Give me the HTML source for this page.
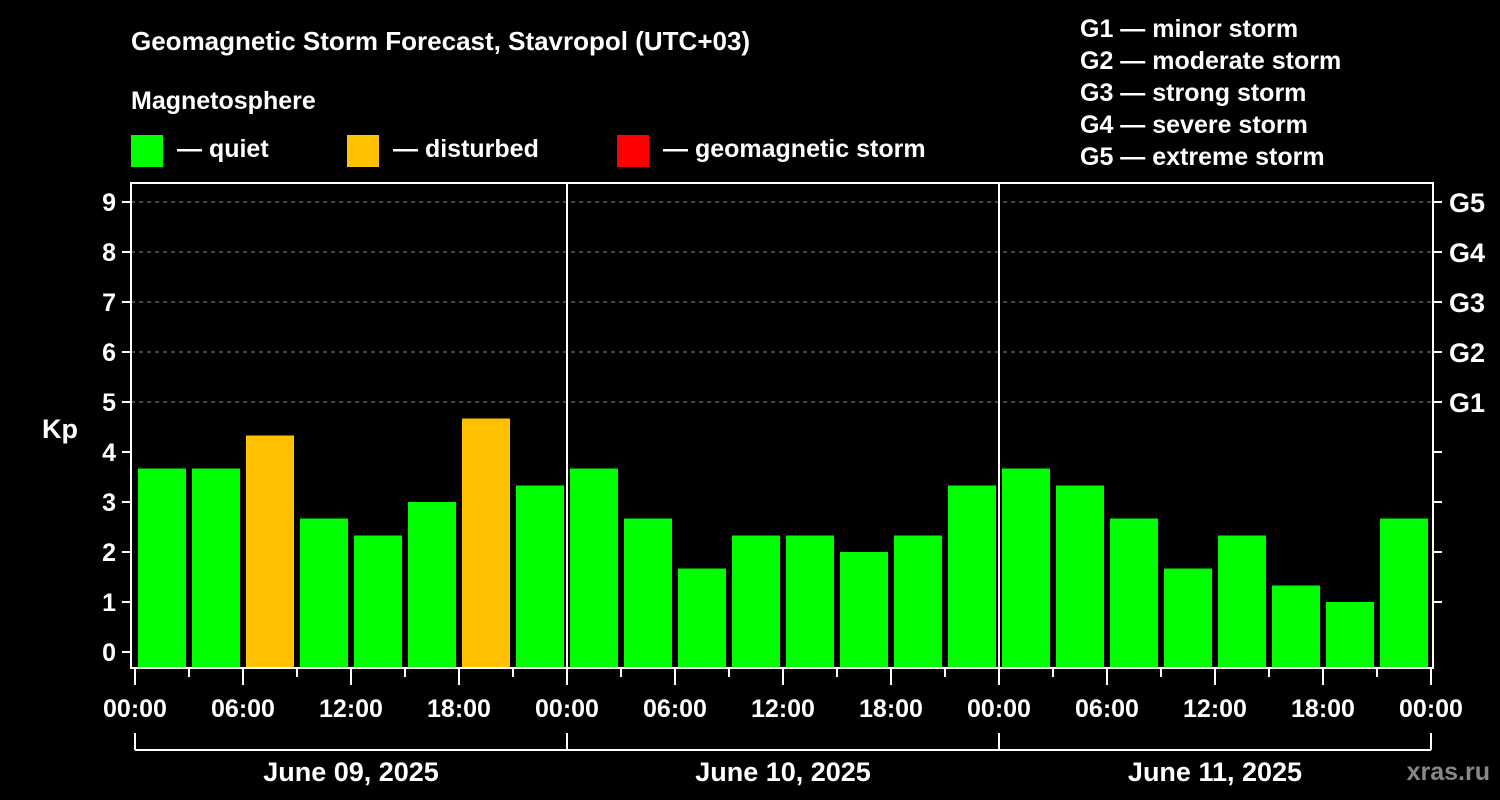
<!DOCTYPE html>
<html><head><meta charset="utf-8"><style>
html,body{margin:0;padding:0;background:#000;}
svg{display:block;font-family:"Liberation Sans",Arial,sans-serif;font-weight:bold;}
</style></head><body>
<svg id="chart" width="1500" height="800" viewBox="0 0 1500 800">
<rect width="1500" height="800" fill="#000"/>
<text x="131" y="50" fill="#fff" font-size="26">Geomagnetic Storm Forecast, Stavropol (UTC+03)</text>
<text x="131" y="109" fill="#fff" font-size="25">Magnetosphere</text>
<g><rect x="131" y="135" width="32" height="32" fill="#00ff00"/><text x="177" y="157" fill="#fff" font-size="25">— quiet</text></g>
<g><rect x="347" y="135" width="32" height="32" fill="#ffc000"/><text x="393" y="157" fill="#fff" font-size="25">— disturbed</text></g>
<g><rect x="617" y="135" width="32" height="32" fill="#ff0000"/><text x="663" y="157" fill="#fff" font-size="25">— geomagnetic storm</text></g>
<g fill="#fff" font-size="25">
<text x="1080" y="37">G1 — minor storm</text>
<text x="1080" y="69">G2 — moderate storm</text>
<text x="1080" y="101">G3 — strong storm</text>
<text x="1080" y="133">G4 — severe storm</text>
<text x="1080" y="165">G5 — extreme storm</text>
</g>
<text x="42" y="438" fill="#fff" font-size="27">Kp</text>
<text x="1490" y="780" fill="#888" font-size="25" text-anchor="end">xras.ru</text>
<g id="grid"></g><g id="bars"></g><g id="axes"></g>
</svg>
<script>
const days = ["June 09, 2025","June 10, 2025","June 11, 2025"];
const hourLabels = ["00:00","06:00","12:00","18:00"];
const kpDay1 = [3.67,3.67,4.33,2.67,2.33,3.0,4.67,3.33];
const kpDay2 = [3.67,2.67,1.67,2.33,2.33,2.0,2.33,3.33];
const kpDay3 = [3.67,3.33,2.67,1.67,2.33,1.33,1.0,2.67];
const gLabels = ["G1","G2","G3","G4","G5"];
const yTicks = [0,1,2,3,4,5,6,7,8,9];

const NS="http://www.w3.org/2000/svg";
const L=131,R=1433,T=183,B=668,X0=135,X1=1431;
const kp=[].concat(kpDay1,kpDay2,kpDay3);
const nSlots=kp.length;
const slotW=(X1-X0)/nSlots;
const y=v=>652-v*50;
const x=i=>X0+i*slotW;
function mk(tag,attrs,parent,text){const e=document.createElementNS(NS,tag);for(const k in attrs)e.setAttribute(k,attrs[k]);if(text!==undefined)e.textContent=text;parent.appendChild(e);return e;}
const grid=document.getElementById('grid'),bars=document.getElementById('bars'),axes=document.getElementById('axes');
yTicks.forEach(v=>{if(v>=5){const l=mk('line',{x1:L,x2:R,y1:y(v),y2:y(v),stroke:'#888','stroke-dasharray':'4,4','stroke-width':1},grid);

}});
kp.forEach((v,i)=>{const c=v>=5?'#ff0000':(v>=4?'#ffc000':'#00ff00');
const r=mk('rect',{x:x(i)+3,y:y(v),width:slotW-6,height:B-y(v),fill:c},bars);

});
// day separators
for(let d=1;d<days.length;d++){const l=mk('line',{x1:x(d*8),x2:x(d*8),y1:T,y2:B,stroke:'#fff','stroke-width':2},axes);

}
const frame=mk('rect',{x:L,y:T,width:R-L,height:B-T,fill:'none',stroke:'#fff','stroke-width':2},axes);


yTicks.forEach(v=>{
mk('line',{x1:122,x2:L,y1:y(v),y2:y(v),stroke:'#fff','stroke-width':2},axes);
const t=mk('text',{x:116,y:y(v)+9,fill:'#fff','font-size':25,'text-anchor':'end'},axes,String(v));


if(v>=1) mk('line',{x1:R,x2:R+9,y1:y(v),y2:y(v),stroke:'#fff','stroke-width':2},axes);
if(v>=5){const g=mk('text',{x:1449,y:y(v)+10,fill:'#fff','font-size':27},axes,gLabels[v-5]);

}
});
for(let i=0;i<=nSlots;i++){const major=i%2===0;
mk('line',{x1:x(i),x2:x(i),y1:B,y2:major?685:677,stroke:'#fff','stroke-width':2},axes);
if(major){const lab=(i===nSlots)?hourLabels[0]:hourLabels[(i/2)%4];
const t=mk('text',{x:x(i),y:717,fill:'#fff','font-size':25,'text-anchor':'middle'},axes,lab);

}}
mk('line',{x1:X0,x2:X1,y1:750,y2:750,stroke:'#fff','stroke-width':2},axes);
for(let d=0;d<=days.length;d++) mk('line',{x1:x(d*8),x2:x(d*8),y1:733,y2:750,stroke:'#fff','stroke-width':2},axes);
days.forEach((dn,d)=>{const t=mk('text',{x:(x(d*8)+x(d*8+8))/2,y:781,fill:'#fff','font-size':27,'text-anchor':'middle'},axes,dn);

});
</script>
</body></html>
